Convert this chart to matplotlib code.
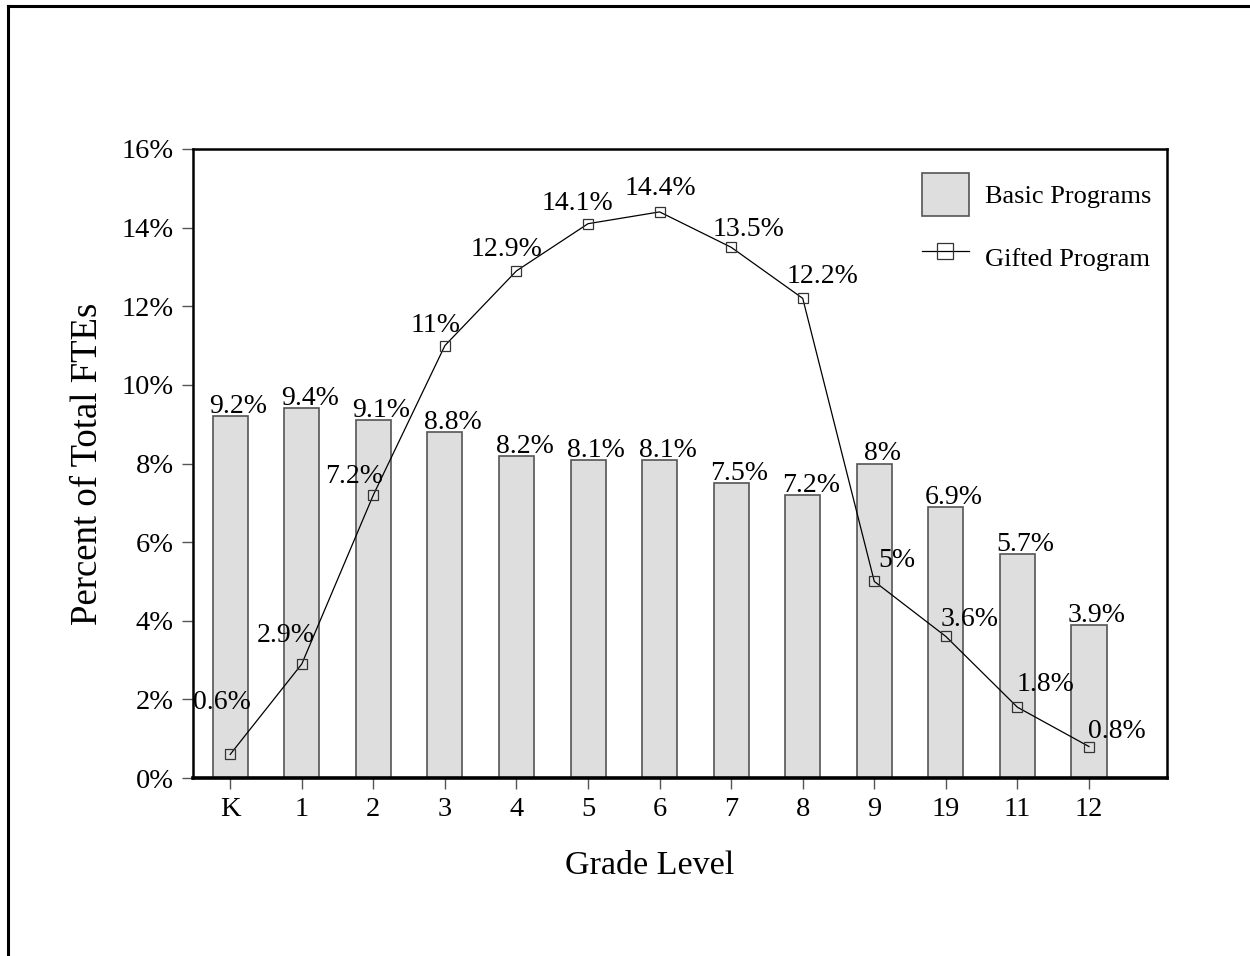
import matplotlib.pyplot as plt
from matplotlib.lines import Line2D
from matplotlib.patches import Patch
from matplotlib.ticker import FuncFormatter

plt.rcParams['font.family'] = ['Liberation Serif', 'DejaVu Serif']

grades = ['K', '1', '2', '3', '4', '5', '6', '7', '8', '9', '19', '11', '12']
basic = [9.2, 9.4, 9.1, 8.8, 8.2, 8.1, 8.1, 7.5, 7.2, 8.0, 6.9, 5.7, 3.9]
gifted = [0.6, 2.9, 7.2, 11.0, 12.9, 14.1, 14.4, 13.5, 12.2, 5.0, 3.6, 1.8, 0.8]

# label shifts for the gifted line (pixels)
gdx = [-8, -16, -19, -9, -10, -11, 1, 17, 20, 23, 24, 28, 28]
gdy = [45, 22, 12, 14, 15, 14, 17, 11, 15, 14, 10, 16, 9]

fig = plt.figure(figsize=(12.5, 9.56), dpi=100)
ax = fig.add_axes([193/1250, 1 - 778/956, 974/1250, 629/956])

# outer frame (left and top only)
fig.add_artist(Line2D([8/1250, 8/1250], [0, 1 - 6/956], transform=fig.transFigure, color='black', lw=2.2))
fig.add_artist(Line2D([8/1250, 1], [1 - 6/956, 1 - 6/956], transform=fig.transFigure, color='black', lw=2.2))

xs = list(range(len(grades)))
ax.bar(xs, basic, width=0.49, color='#dedede', edgecolor='#555555', linewidth=1.2, zorder=2)
ax.plot(xs, gifted, color='black', lw=0.9, marker='s', markersize=7, markerfacecolor='none',
        markeredgecolor='#333333', markeredgewidth=0.9, zorder=3)

for i, v in enumerate(basic):
    ax.annotate(f'{v:g}%', (i, v), xytext=(8, 3), textcoords='offset pixels',
                ha='center', va='baseline', fontsize=20)
for i, v in enumerate(gifted):
    ax.annotate(f'{v:g}%', (i, v), xytext=(gdx[i], gdy[i]), textcoords='offset pixels',
                ha='center', va='baseline', fontsize=20)

ax.set_xlim(-0.52, 13.09)
ax.set_ylim(0, 16)
ax.set_yticks(range(0, 17, 2))
ax.yaxis.set_major_formatter(FuncFormatter(lambda v, p: f'{v:g}%'))
ax.set_xticks(xs)
ax.set_xticklabels(grades)
ax.tick_params(axis='both', direction='out', length=8, width=1, labelsize=20.5)
ax.tick_params(axis='x', colors='#555555', labelcolor='black', pad=6)
ax.tick_params(axis='y', colors='#555555', labelcolor='black', pad=6)

for s in ['top', 'right', 'left']:
    ax.spines[s].set_linewidth(1.8)
ax.spines['bottom'].set_linewidth(2.6)

ax.set_xlabel('Grade Level', fontsize=24.5)
ax.xaxis.set_label_coords((650 - 193) / 974, -88 / 629)
ax.xaxis.label.set_va('center')
ax.set_ylabel('Percent of Total FTEs', fontsize=26.5)
ax.yaxis.set_label_coords(-(193 - 88) / 974, 0.5)
ax.yaxis.label.set_va('center')

handles = [Patch(facecolor='#dedede', edgecolor='#555555', linewidth=1.2),
           Line2D([], [], color='black', lw=0.9, marker='s', markersize=12, markerfacecolor='none',
                  markeredgecolor='#333333', markeredgewidth=0.9)]
ax.legend(handles, ['Basic Programs', 'Gifted Program'], loc='upper left',
          bbox_to_anchor=(901/1250, 1 - 152/956), bbox_transform=fig.transFigure,
          frameon=False, fontsize=19, handlelength=1.78, handleheight=2.17,
          labelspacing=0.75, handletextpad=0.62, borderpad=0.284)

fig.savefig('out.png', dpi=100)
